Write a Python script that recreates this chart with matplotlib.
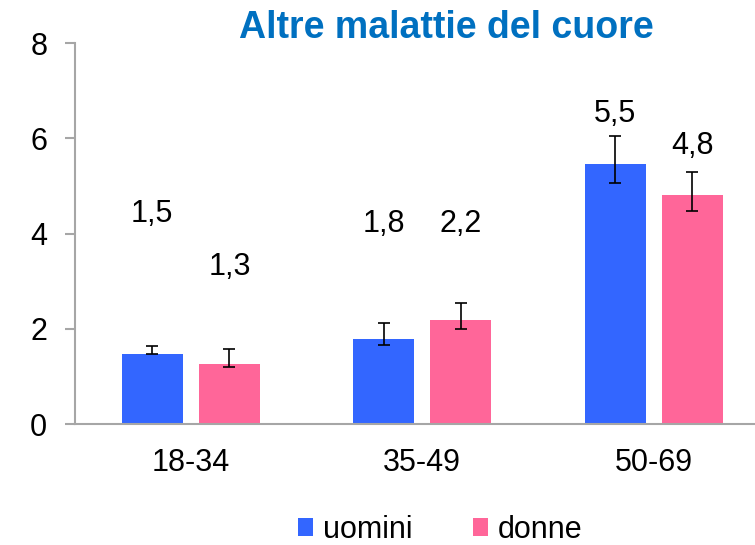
import numpy as np
from matplotlib import pyplot as plt

plt.rcParams["font.family"] = ["Liberation Sans", "DejaVu Sans"]

# age groups and prevalence (%)
groups = ["18-34", "35-49", "50-69"]
uomini = [1.48, 1.79, 5.47]
donne = [1.27, 2.18, 4.80]

# confidence intervals (lower, upper)
uomini_low = [1.46, 1.65, 5.07]
uomini_high = [1.64, 2.12, 6.04]
donne_low = [1.20, 1.99, 4.47]
donne_high = [1.58, 2.55, 5.30]

# heights where the value labels sit
uomini_label_y = [4.4, 4.21, 6.51]
donne_label_y = [3.29, 4.21, 5.84]

blue = "#3366FF"
pink = "#FF6699"
axis_gray = "#A6A6A6"

fig = plt.figure(figsize=(7.55, 5.45), dpi=100)
ax = fig.add_axes([0.0993, 0.222, 0.92, 0.699])

x = np.arange(len(groups))
offset = 0.167
width = 0.263

u = np.array(uomini)
d = np.array(donne)
u_err = [u - np.array(uomini_low), np.array(uomini_high) - u]
d_err = [d - np.array(donne_low), np.array(donne_high) - d]

ax.bar(x - offset, uomini, width, color=blue, label="uomini", zorder=2)
ax.bar(x + offset, donne, width, color=pink, label="donne", zorder=2)
ax.errorbar(x - offset, uomini, yerr=u_err, fmt="none", ecolor="black",
            elinewidth=1.2, capsize=4.5, capthick=1.2, zorder=3)
ax.errorbar(x + offset, donne, yerr=d_err, fmt="none", ecolor="black",
            elinewidth=1.2, capsize=4.5, capthick=1.2, zorder=3)

for i in range(len(groups)):
    ax.text(x[i] - offset, uomini_label_y[i], f"{uomini[i]:.1f}".replace(".", ","),
            ha="center", va="center", fontsize=22)
    ax.text(x[i] + offset, donne_label_y[i], f"{donne[i]:.1f}".replace(".", ","),
            ha="center", va="center", fontsize=22)

ax.set_xlim(-0.5, 2.5)
ax.set_ylim(0, 8)
ax.set_yticks([0, 2, 4, 6, 8])
ax.set_xticks(x)
ax.set_xticklabels(groups)
ax.tick_params(axis="y", labelsize=22, length=7, width=1.5, color=axis_gray, pad=13)
ax.tick_params(axis="x", labelsize=22, length=0, pad=17)

for side in ["top", "right"]:
    ax.spines[side].set_visible(False)
for side in ["left", "bottom"]:
    ax.spines[side].set_color(axis_gray)
    ax.spines[side].set_linewidth(1.5)

fig.text(0.591, 0.949, "Altre malattie del cuore", ha="center", va="center",
         fontsize=27, fontweight="bold", color="#0070C0")

fig.legend(loc="center", bbox_to_anchor=(0.583, 0.028), ncol=2, frameon=False,
           fontsize=22, handlelength=0.5, handleheight=0.5, handletextpad=0.3,
           columnspacing=2.0, borderpad=0)

plt.savefig("out.png", dpi=100)
